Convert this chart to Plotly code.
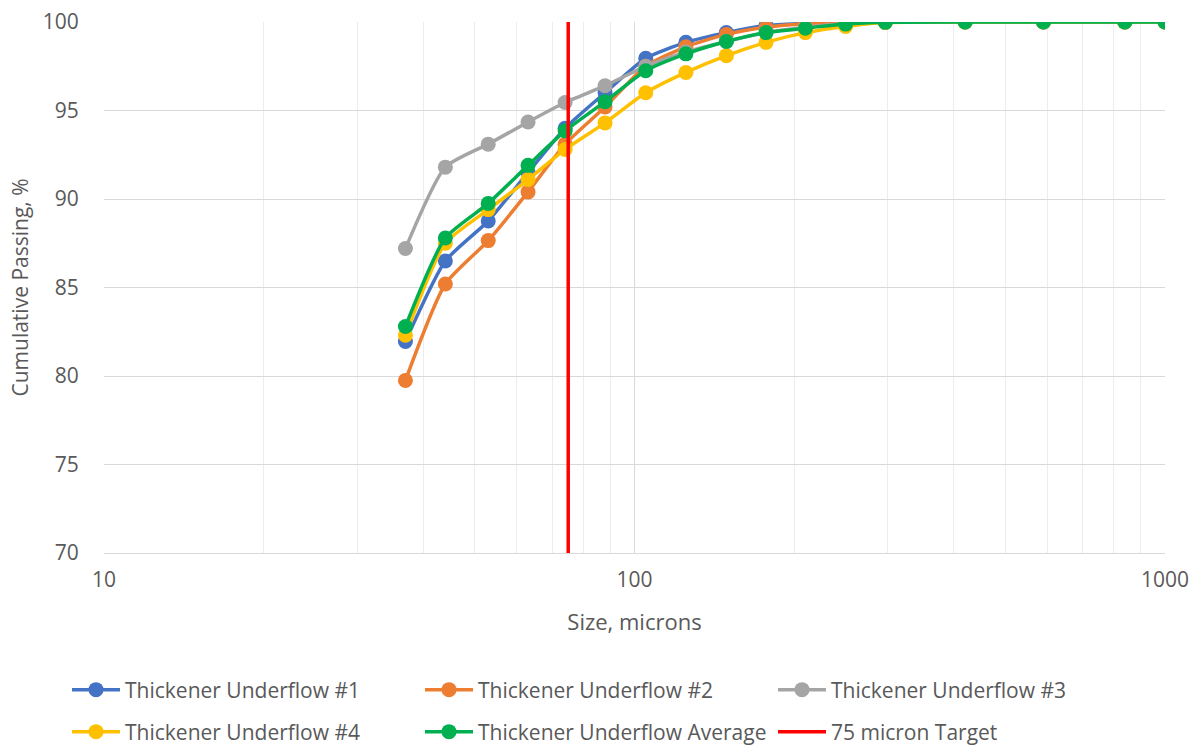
import plotly.graph_objects as go

sizes = [37, 44, 53, 63, 74, 88, 105, 125, 149, 177, 210, 250, 297, 420, 590, 840, 1000]

tu1 = [81.95, 86.5, 88.76, 91.5, 94.0, 96.0, 97.95, 98.85, 99.4, 99.8, 99.92, 99.97, 100, 100, 100, 100, 100]
tu2 = [79.75, 85.2, 87.65, 90.4, 93.1, 95.2, 97.5, 98.6, 99.3, 99.7, 99.9, 99.97, 100, 100, 100, 100, 100]
tu3 = [87.2, 91.8, 93.1, 94.35, 95.45, 96.4, 97.5, 98.3, 98.9, 99.4, 99.7, 99.9, 100, 100, 100, 100, 100]
tu4 = [82.3, 87.5, 89.4, 91.1, 92.8, 94.3, 96.0, 97.15, 98.1, 98.85, 99.4, 99.75, 99.97, 100, 100, 100, 100]
tavg = [82.8, 87.8, 89.75, 91.9, 93.85, 95.5, 97.25, 98.2, 98.9, 99.4, 99.65, 99.88, 99.98, 100, 100, 100, 100]

target_x = [75, 75]
target_y = [70, 100]

series = [
    ("Thickener Underflow #1", tu1, "#4472C4", "legend"),
    ("Thickener Underflow #2", tu2, "#ED7D31", "legend"),
    ("Thickener Underflow #3", tu3, "#A5A5A5", "legend"),
    ("Thickener Underflow #4", tu4, "#FFC000", "legend2"),
    ("Thickener Underflow Average", tavg, "#00B050", "legend2"),
]

FONT = "Open Sans"
TXT = "#595959"

fig = go.Figure()
for name, vals, col, lg in series:
    fig.add_trace(go.Scatter(
        x=sizes, y=vals, name=name, mode="lines+markers",
        line=dict(color=col, width=3.5, shape="spline", smoothing=0.6),
        marker=dict(color=col, size=15),
        legend=lg,
    ))

fig.add_trace(go.Scatter(
    x=target_x, y=target_y, name="75 micron Target", mode="lines",
    line=dict(color="#FF0000", width=3.5),
    legend="legend2",
))

minor_vals = [20, 30, 40, 50, 60, 70, 80, 90, 200, 300, 400, 500, 600, 700, 800, 900]

leg_common = dict(
    orientation="h", xanchor="left", yanchor="middle", yref="container", xref="container",
    entrywidth=290, entrywidthmode="pixels", itemwidth=48,
    font=dict(family=FONT, size=21, color=TXT),
    bgcolor="rgba(0,0,0,0)",
)

fig.update_layout(
    width=1192, height=749,
    margin=dict(l=104, r=27, t=22, b=196),
    paper_bgcolor="white", plot_bgcolor="white",
    font=dict(family=FONT, size=20, color=TXT),
    showlegend=True,
    legend=dict(x=67 / 1192, y=1 - 690 / 749, **leg_common),
    legend2=dict(x=67 / 1192, y=1 - 732 / 749, **leg_common),
)

fig.update_xaxes(
    type="log", range=[1, 3], automargin=False,
    tickvals=[10, 100, 1000], ticktext=["10", "100", "1000"],
    showgrid=True, gridcolor="#D9D9D9", gridwidth=1,
    minor=dict(tickvals=minor_vals, showgrid=True, gridcolor="#EDEDED", gridwidth=1, ticks=""),
    showline=True, linecolor="#D9D9D9", linewidth=1,
    ticks="outside", ticklen=8, tickcolor="rgba(0,0,0,0)", zeroline=False,
    tickfont=dict(family=FONT, size=21, color=TXT),
    title=dict(text="Size, microns", font=dict(family=FONT, size=22, color=TXT), standoff=22),
)

fig.update_yaxes(
    range=[70, 100], dtick=5, automargin=False,
    showgrid=True, gridcolor="#D9D9D9", gridwidth=1,
    showline=False, ticks="outside", ticklen=20, tickcolor="rgba(0,0,0,0)", zeroline=False,
    tickfont=dict(family=FONT, size=21, color=TXT),
    title=dict(text="Cumulative Passing, %", font=dict(family=FONT, size=21, color=TXT), standoff=8),
)

fig.write_html("out.html")
